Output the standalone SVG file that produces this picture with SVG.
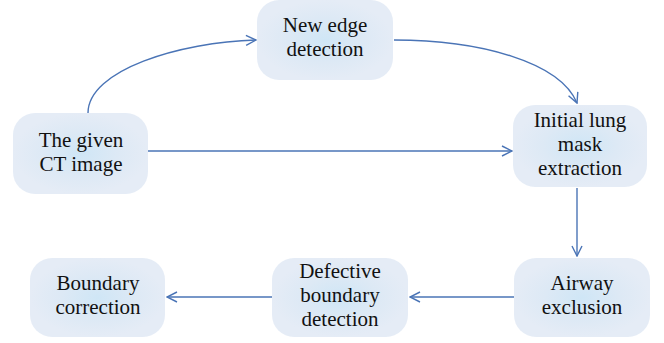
<svg xmlns="http://www.w3.org/2000/svg" width="664" height="343" viewBox="0 0 664 343">
  <style>
    .box { fill: url(#glow); }
    .lbl { font-family: "Liberation Serif", "Times New Roman", "DejaVu Serif", serif; font-size: 21px; fill: #111; text-anchor: middle; }
    .edge { fill: none; stroke: #4a74b6; stroke-width: 1.4; marker-end: url(#head); }
  </style>
  <defs>
    <radialGradient id="glow" cx="50%" cy="50%" r="50%">
      <stop offset="0" stop-color="#cfe6f6"/>
      <stop offset="0.55" stop-color="#dde9f5"/>
      <stop offset="1" stop-color="#e5ecf6"/>
    </radialGradient>
    <marker id="head" viewBox="0 0 12 12" refX="11" refY="6" markerWidth="12" markerHeight="12" markerUnits="userSpaceOnUse" orient="auto">
      <path d="M1,1 L11,6 L1,11" fill="none" stroke="#4a74b6" stroke-width="1.4"/>
    </marker>
  </defs>

  <g id="connectors">
    <path class="edge" d="M88,113 C88,70 180,42 256,40"/>
    <path class="edge" d="M394,40 C480,40 560,62 577,103"/>
    <path class="edge" d="M148,151 L512,151"/>
    <path class="edge" d="M577,188 L577,256"/>
    <path class="edge" d="M514,297 L410,297"/>
    <path class="edge" d="M272,297 L167,297"/>
  </g>

  <g id="given-ct">
    <rect class="box" x="13" y="113" width="135" height="81" rx="22"/>
    <text class="lbl" x="81" y="147">The given</text>
    <text class="lbl" x="81" y="171">CT image</text>
  </g>

  <g id="new-edge">
    <rect class="box" x="257" y="0" width="136" height="80" rx="22"/>
    <text class="lbl" x="325" y="32">New edge</text>
    <text class="lbl" x="325" y="56">detection</text>
  </g>

  <g id="initial-lung">
    <rect class="box" x="513" y="105" width="134" height="82" rx="22"/>
    <text class="lbl" x="580" y="127">Initial lung</text>
    <text class="lbl" x="580" y="151">mask</text>
    <text class="lbl" x="580" y="175">extraction</text>
  </g>

  <g id="airway">
    <rect class="box" x="514" y="258" width="136" height="79" rx="22"/>
    <text class="lbl" x="582" y="290">Airway</text>
    <text class="lbl" x="582" y="314">exclusion</text>
  </g>

  <g id="defective">
    <rect class="box" x="272" y="258" width="136" height="79" rx="22"/>
    <text class="lbl" x="340" y="278">Defective</text>
    <text class="lbl" x="340" y="302">boundary</text>
    <text class="lbl" x="340" y="326">detection</text>
  </g>

  <g id="boundary">
    <rect class="box" x="30" y="258" width="135" height="79" rx="22"/>
    <text class="lbl" x="98" y="290">Boundary</text>
    <text class="lbl" x="98" y="314">correction</text>
  </g>
</svg>
